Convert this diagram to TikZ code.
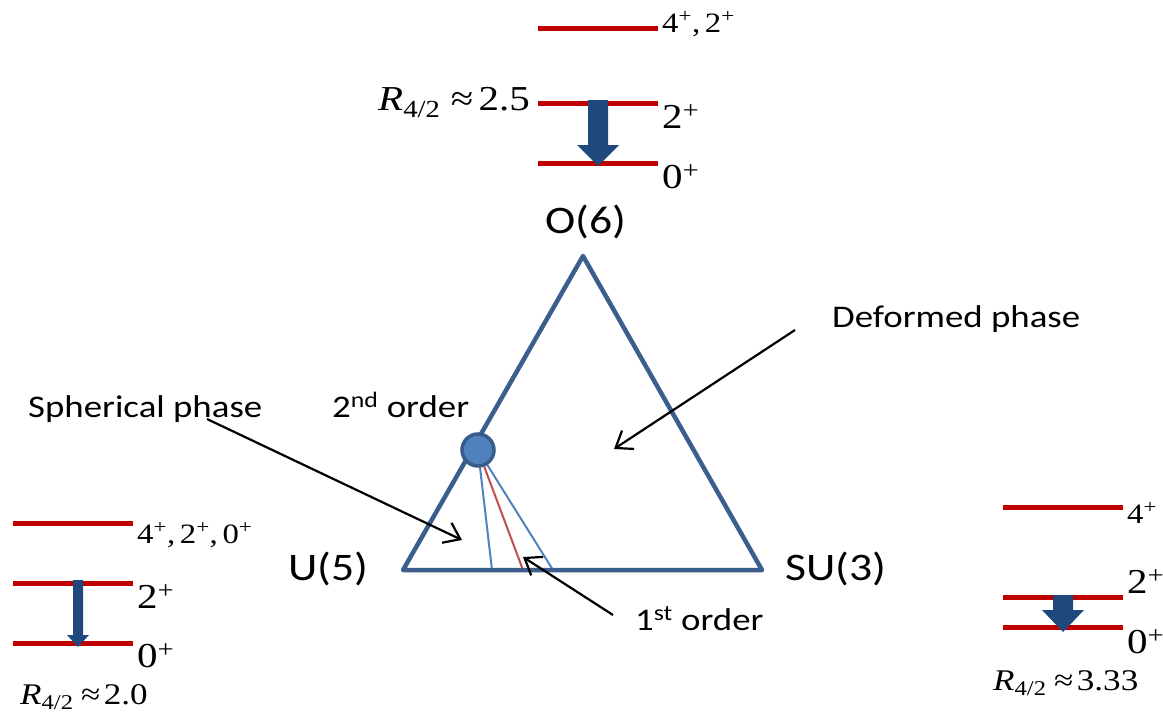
\documentclass[tikz,border=0pt]{standalone}
\usepackage{fontspec}
\setmainfont{Liberation Serif}[FakeStretch=1.17]
\newfontfamily\calfont{Carlito}[FakeStretch=1.17]
\usetikzlibrary{arrows.meta}
\definecolor{lvlred}{HTML}{C00000}
\definecolor{triblue}{HTML}{3B5E8C}
\definecolor{lineblue}{HTML}{4F81BD}
\definecolor{linered}{HTML}{C0504D}
\definecolor{arrowblue}{HTML}{1F497D}
\definecolor{circborder}{HTML}{385D8A}
\newcommand\plusup{\textsuperscript{+}}
\begin{document}
\begin{tikzpicture}[x=1pt,y=-1pt,
  lvl/.style={draw=lvlred,line width=5pt},
  blockarrow/.style={fill=arrowblue},
  serifbig/.style={anchor=base west,inner sep=0pt,font=\fontsize{35}{40}\selectfont},
  serifmid/.style={anchor=base west,inner sep=0pt,font=\fontsize{30}{34}\selectfont},
  serifsmall/.style={anchor=base west,inner sep=0pt,font=\fontsize{28}{32}\selectfont},
  caltext/.style={anchor=base west,inner sep=0pt,font=\calfont\fontsize{31.5}{36}\selectfont},
  calbig/.style={anchor=base west,inner sep=0pt,font=\calfont\fontsize{39}{44}\selectfont},
  pointer/.style={draw=black,line width=2.2pt,-{Straight Barb[length=15pt,width=22pt]}},
  thinblue/.style={draw=lineblue,line width=2pt},
  thinred/.style={draw=linered,line width=2pt},
  tri/.style={draw=triblue,line width=4.5pt,line join=round},
]
\path[use as bounding box] (0,0) rectangle (1163,715);

% ---- top level scheme (O(6)) ----
\draw[lvl] (538,28) -- (658,28);
\draw[lvl] (538,103) -- (658,103);
\draw[lvl] (538,163) -- (658,163);
\fill[blockarrow] (588,100) -- (608,100) -- (608,145) -- (619,145) -- (598,166) -- (577,145) -- (588,145) -- cycle;
\node[serifsmall] (t4) at (662,32) {4\plusup,\,2\plusup};
\node[serifbig] (t2) at (662,128) {2\plusup};
\node[serifbig] (t0) at (662,188) {0\plusup};
\node[serifbig,anchor=base east] (tR) at (530,110) {{\itshape R}\textsubscript{4/2}\hspace{0.3em}≈\hspace{0.15em}2.5};

% ---- left level scheme (U(5)) ----
\draw[lvl] (13,523) -- (133,523);
\draw[lvl] (13,583) -- (133,583);
\draw[lvl] (13,643) -- (133,643);
\fill[blockarrow] (73,580) -- (83,580) -- (83,635) -- (89,635) -- (78,647) -- (67,635) -- (73,635) -- cycle;
\node[serifsmall] (l4) at (137,543) {4\plusup,\,2\plusup,\,0\plusup};
\node[serifbig] (l2) at (137,608) {2\plusup};
\node[serifbig] (l0) at (137,667) {0\plusup};
\node[serifmid] (lR) at (20,704) {{\itshape R}\textsubscript{4/2}\hspace{0.25em}≈\hspace{0.12em}2.0};

% ---- right level scheme (SU(3)) ----
\draw[lvl] (1003,507) -- (1123,507);
\draw[lvl] (1003,597) -- (1123,597);
\draw[lvl] (1003,627) -- (1123,627);
\fill[blockarrow] (1053,595) -- (1073,595) -- (1073,610) -- (1084,610) -- (1063,632) -- (1042,610) -- (1053,610) -- cycle;
\node[serifsmall] (r4) at (1127,523) {4\plusup};
\node[serifbig] (r2) at (1127,593) {2\plusup};
\node[serifbig] (r0) at (1127,653) {0\plusup};
\node[serifmid] (rR) at (993,690) {{\itshape R}\textsubscript{4/2}\hspace{0.25em}≈\hspace{0.12em}3.33};

% ---- triangle ----
\coordinate (O) at (583,256);
\coordinate (U) at (403,570);
\coordinate (S) at (762,570);
\coordinate (cpc) at (478,450);
\coordinate (b1) at (492,570);
\coordinate (b2) at (523,570);
\coordinate (b3) at (553,570);
\draw[thinblue] (cpc) -- (b1);
\draw[thinred] (cpc) -- (b2);
\draw[thinblue] (cpc) -- (b3);
\draw[tri] (O) -- (U) -- (S) -- cycle;
\node[circle,fill=lineblue,draw=circborder,line width=3.5pt,minimum size=32pt,inner sep=0pt] (cp) at (cpc) {};

% ---- labels ----
\node[calbig] (o6) at (545,233) {O(6)};
\node[calbig] (u5) at (288,580) {U(5)};
\node[calbig] (su3) at (785,580) {SU(3)};
\node[caltext] (sph) at (28,417) {Spherical phase};
\node[caltext] (snd) at (332,417) {2\textsuperscript{nd} order};
\node[caltext] (def) at (832,327) {Deformed phase};
\node[caltext] (fst) at (635,630) {1\textsuperscript{st} order};

% ---- pointers ----
\coordinate (sphA) at (207,419);
\coordinate (sphB) at (462,540);
\coordinate (defA) at (795,330);
\coordinate (defB) at (614,449);
\coordinate (fstA) at (613,615);
\coordinate (fstB) at (523,557);
\draw[pointer] (sphA) -- (sphB);
\draw[pointer] (defA) -- (defB);
\draw[pointer] (fstA) -- (fstB);
\end{tikzpicture}
\end{document}
